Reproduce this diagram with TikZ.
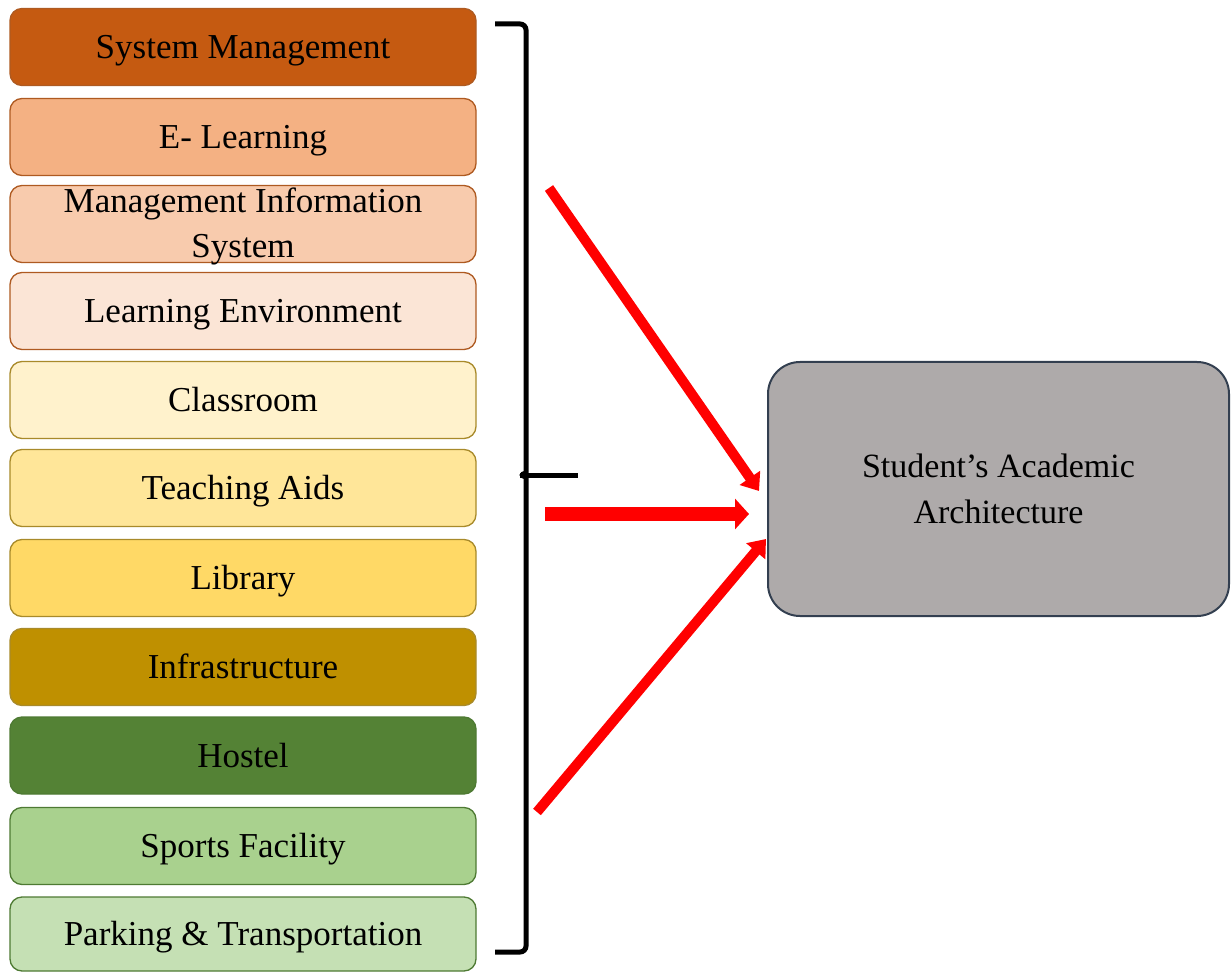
\documentclass[tikz,border=0pt]{standalone}
\usepackage{fontspec}
\setmainfont{Liberation Serif}
\usepackage{tikz}
\usetikzlibrary{arrows.meta,positioning}

\definecolor{orangeD}{HTML}{C55A11}
\definecolor{orangeA}{HTML}{F4B183}
\definecolor{orangeB}{HTML}{F8CBAD}
\definecolor{orangeC}{HTML}{FBE5D6}
\definecolor{orangeE}{HTML}{AE5A21}
\definecolor{goldC}{HTML}{FFF2CC}
\definecolor{goldB}{HTML}{FFE699}
\definecolor{goldA}{HTML}{FFD966}
\definecolor{goldD}{HTML}{BF9000}
\definecolor{goldE}{HTML}{A88A2A}
\definecolor{greenD}{HTML}{548235}
\definecolor{greenA}{HTML}{A9D18E}
\definecolor{greenB}{HTML}{C5E0B4}
\definecolor{greenE}{HTML}{4E7A33}
\definecolor{grayA}{HTML}{AEAAAA}
\definecolor{slateE}{HTML}{333F50}

\begin{document}
\begin{tikzpicture}[x=1pt,y=-1pt,
    factor/.style={draw, line width=1.3pt, rounded corners=12pt,
        minimum width=466pt, minimum height=77pt, inner sep=0pt,
        text height=23pt, text depth=0pt,
        font=\fontsize{35}{45}\selectfont},
    brace/.style={draw=black, line width=5pt},
    bigarrow/.style={draw=red, line width=14pt,
        -{Triangle[width=30pt,length=14pt]}},
    slimarrow/.style={draw=red, line width=10pt,
        -{Triangle[width=24pt,length=16pt]}}]
    \useasboundingbox (0,0) rectangle (1231,973);
    % the factors
    \node[factor, fill=orangeD, draw=orangeE] (sysman) at (243,47) {System Management};
    \node[factor, fill=orangeA, draw=orangeE] (elearn) at (243,137) {E- Learning};
    \node[factor, fill=orangeB, draw=orangeE, text height=0pt, text depth=0pt,
        align=center] (mis) at (243,224) {};
    \node[font=\fontsize{35}{45}\selectfont, anchor=base] (misA) at (243,213) {Management Information};
    \node[font=\fontsize{35}{45}\selectfont, anchor=base] (misB) at (243,258) {System};
    \node[factor, fill=orangeC, draw=orangeE] (learnenv) at (243,311) {Learning Environment};
    \node[factor, fill=goldC, draw=goldE] (classroom) at (243,400) {Classroom};
    \node[factor, fill=goldB, draw=goldE] (aids) at (243,488) {Teaching Aids};
    \node[factor, fill=goldA, draw=goldE] (library) at (243,578) {Library};
    \node[factor, fill=goldD, draw=goldE] (infra) at (243,667) {Infrastructure};
    \node[factor, fill=greenD, draw=greenE] (hostel) at (243,755.5) {Hostel};
    \node[factor, fill=greenA, draw=greenE] (sports) at (243,846) {Sports Facility};
    \node[factor, fill=greenB, draw=greenE, minimum height=74pt] (parking) at (243,934) {Parking \& Transportation};
    % the brace
    \draw[brace, rounded corners=6pt] (495,24) -- (526,24) -- (526,467)
        .. controls (526,473) .. (519,475) .. controls (526,477) .. (526,483)
        -- (526,952) -- (495,952);
    \draw[brace] (520,475) -- (578,475);
    % the outcome
    \node[draw=slateE, fill=grayA, line width=2pt, rounded corners=32pt,
        minimum width=461pt, minimum height=254pt, align=center,
        font=\fontsize{34}{46}\selectfont] (saa) at (998.5,489) {Student’s Academic\\Architecture};
    % arrows into the outcome
    \coordinate (topS) at (549,188);
    \coordinate (topE) at (759,491);
    \coordinate (midS) at (545,514);
    \coordinate (midE) at (749,514);
    \coordinate (lowS) at (537,812);
    \coordinate (lowE) at (766,539);
    \draw[slimarrow] (topS) -- (topE);
    \draw[bigarrow] (midS) -- (midE);
    \draw[slimarrow] (lowS) -- (lowE);
\end{tikzpicture}
\end{document}
